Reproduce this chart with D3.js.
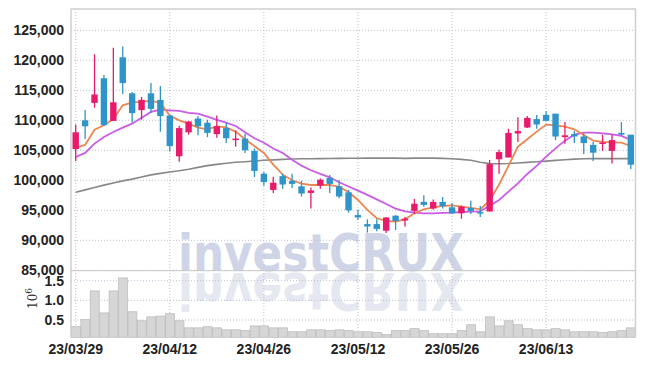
<!DOCTYPE html>
<html>
<head>
<meta charset="UTF-8" />
<script src="https://d3js.org/d3.v7.min.js"></script>
<style>
  body { margin: 0; background: #fff; }
  svg text { font-family: "Liberation Sans Narrow", "DejaVu Sans Condensed", sans-serif; }
</style>
</head>
<body>
<svg width="645" height="366"></svg>
<script>
const dates = [
  "23/03/29","23/03/30","23/03/31","23/04/03","23/04/04","23/04/05","23/04/06","23/04/07","23/04/10","23/04/11",
  "23/04/12","23/04/13","23/04/14","23/04/17","23/04/18","23/04/19","23/04/20","23/04/21","23/04/24","23/04/25",
  "23/04/26","23/04/27","23/04/28","23/05/02","23/05/03","23/05/04","23/05/08","23/05/09","23/05/10","23/05/11",
  "23/05/12","23/05/15","23/05/16","23/05/17","23/05/18","23/05/19","23/05/22","23/05/23","23/05/24","23/05/25",
  "23/05/26","23/05/30","23/05/31","23/06/01","23/06/02","23/06/05","23/06/07","23/06/08","23/06/09","23/06/12",
  "23/06/13","23/06/14","23/06/15","23/06/16","23/06/19","23/06/20","23/06/21","23/06/22","23/06/23","23/06/26"
];
const open  = [105200,110000,112900,117000,109900,120500,114500,111700,114500,113400,
               110800,104000,108000,110300,109600,107700,108700,106700,106950,104900,
               101100,98400,100700,99900,99000,97900,99100,100400,99000,98000,
               94200,92700,92700,91600,94100,93300,94900,96400,95300,96400,
               95500,94500,95400,94700,94800,103500,103800,107800,108800,110200,
               110900,111100,107200,107700,107300,105900,106100,104900,107900,107600];
const high  = [109300,111700,121000,117550,122100,122300,114700,113900,116200,115700,
               110900,109100,109900,110700,110100,110800,109600,108300,107800,105300,
               101400,100600,101100,101100,99900,98800,100300,100900,100000,98400,
               95100,93500,93500,93900,94200,93900,96900,97500,96800,97200,
               96200,95800,96600,95700,103400,105100,108600,110500,110700,110900,
               111500,111100,109700,108200,107800,106400,107600,107600,109700,107600];
const low   = [103200,106900,112100,109100,109900,114400,109600,110100,111200,108100,
               104800,103100,107600,107500,107200,107100,106200,105600,104560,100560,
               99100,97900,98600,98700,97300,95300,98600,97900,97000,94600,
               93400,91300,91500,91200,91700,92300,94400,95600,95100,95300,
               94400,93600,94400,93900,94800,101100,103800,106400,108700,108600,
               109800,106700,106100,106200,104400,103200,104900,102800,107500,101900];
const close = [108000,109000,114300,109200,113000,116200,111200,113400,111900,110700,
               105700,108700,109800,109000,107900,109000,107000,106950,105000,101560,
               99700,99600,99300,99400,97800,98300,100100,99400,97300,95000,
               93800,92300,91900,93800,93200,93600,96100,95900,96400,95700,
               94500,95600,94900,94500,102700,104700,107900,108200,110400,109300,
               109900,107300,107500,107300,106200,104600,106300,106700,107600,102600];
// volume in millions of shares
const volume = [0.33,0.51,1.24,0.68,1.24,1.57,0.71,0.48,0.58,0.60,
                0.66,0.48,0.30,0.30,0.33,0.30,0.25,0.25,0.23,0.35,
                0.35,0.30,0.30,0.20,0.20,0.25,0.25,0.23,0.25,0.23,
                0.20,0.20,0.18,0.13,0.23,0.23,0.28,0.23,0.15,0.15,
                0.15,0.23,0.38,0.20,0.58,0.35,0.48,0.38,0.28,0.25,
                0.25,0.28,0.25,0.20,0.20,0.20,0.18,0.20,0.23,0.30];
const ma5  = [105440,105900,108440,109170,110220,112500,113000,113060,113280,112890,
              110780,110000,109440,108780,108500,109000,108830,108110,106830,105700,
              104560,102610,100940,100000,99440,99220,99220,99220,98890,98050,
              96720,95060,93670,93220,93110,93500,94500,95170,95500,95720,
              95830,95610,95390,95170,96600,99300,102400,105600,106830,108110,
              109280,109170,108940,108500,107560,106610,106390,106330,106280,105720];
const ma20 = [103890,104560,106110,107220,108050,108780,109440,110440,111390,111780,
              111670,111560,111220,111110,110600,110060,109610,109060,108000,107000,
              106250,105300,104560,103440,102440,101670,101060,100500,99670,98970,
              98280,97560,96830,96060,95280,94830,94610,94500,94500,94560,
              94610,94720,94780,94830,95750,96720,98110,99500,101060,102390,
              103940,105330,106610,107610,107940,107940,107830,107670,107390,106720];
const ma60 = [98000,98400,98800,99200,99560,99900,100200,100550,100900,101150,
              101390,101600,101850,102150,102450,102650,102850,103000,103100,103220,
              103330,103400,103480,103550,103580,103600,103610,103640,103660,103670,
              103680,103690,103700,103720,103700,103650,103700,103720,103700,103650,
              103580,103480,103330,103000,102780,102760,102800,102880,102980,103100,
              103200,103320,103430,103530,103580,103610,103610,103610,103620,103620];
const priceTicks = [85000,90000,95000,100000,105000,110000,115000,120000,125000];
const volTicks = [0.5,1.0,1.5];
const dateTicks = ["23/03/29","23/04/12","23/04/26","23/05/12","23/05/26","23/06/13"];

const plotL = 71, plotR = 635.5, plotT = 9, split = 270.7, plotB = 337.3;
const upColor = "#e81a6b", downColor = "#2f94c7";

const svg = d3.select("svg");
const x = d3.scaleBand().domain(dates).range([plotL, plotR]).padding(0);
const y = d3.scaleLinear().domain([85000, 125000]).range([270.3, 30.3]);
const yv = d3.scaleLinear().domain([0.06, 1.5]).range([plotB, 280.7]);
const cx = d => x(d) + x.bandwidth() / 2;

// watermark with reflection
const wm = svg.append("g").attr("font-weight", "bold").attr("font-size", 52);
wm.append("text").attr("x", 178).attr("y", 271).attr("fill", "#cfd5e7")
  .attr("textLength", 286).attr("lengthAdjust", "spacingAndGlyphs")
  .style("font-family", "DejaVu Sans, sans-serif").text("investCRUX");
wm.append("text").attr("x", 178).attr("y", -273).attr("transform", "scale(1,-1)")
  .attr("fill", "#e5e8f1").attr("textLength", 286).attr("lengthAdjust", "spacingAndGlyphs")
  .style("font-family", "DejaVu Sans, sans-serif").text("investCRUX");

// grid
const grid = svg.append("g").attr("stroke", "#bcc0d2").attr("stroke-width", 1).attr("stroke-dasharray", "1,2");
grid.selectAll(".hp").data(priceTicks).join("line").attr("class", "hp")
  .attr("x1", plotL).attr("x2", plotR).attr("y1", d => y(d)).attr("y2", d => y(d));
grid.selectAll(".hv").data(volTicks).join("line").attr("class", "hv")
  .attr("x1", plotL).attr("x2", plotR).attr("y1", d => yv(d)).attr("y2", d => yv(d));
grid.selectAll(".vx").data(dateTicks).join("line").attr("class", "vx")
  .attr("x1", cx).attr("x2", cx).attr("y1", plotT).attr("y2", plotB);

// volume bars
svg.append("g").selectAll("rect").data(dates).join("rect")
  .attr("x", d => x(d) + 0.5).attr("width", x.bandwidth() - 0.5)
  .attr("y", (d, i) => yv(volume[i])).attr("height", (d, i) => plotB - yv(volume[i]))
  .attr("fill", "#d6d6d6").attr("stroke", "#bdbdbd").attr("stroke-width", 0.8);

// moving averages
const line = d3.line().x((d, i) => cx(dates[i])).y(d => y(d));
svg.append("path").attr("d", line(ma60)).attr("fill", "none").attr("stroke", "#888").attr("stroke-width", 1.6);
svg.append("path").attr("d", line(ma20)).attr("fill", "none").attr("stroke", "#c95ce8").attr("stroke-width", 1.8);
svg.append("path").attr("d", line(ma5)).attr("fill", "none").attr("stroke", "#ec8752").attr("stroke-width", 1.8);

// candles
const c = svg.append("g").selectAll("g").data(dates).join("g")
  .attr("fill", (d, i) => close[i] >= open[i] ? upColor : downColor)
  .attr("stroke", (d, i) => close[i] >= open[i] ? upColor : downColor);
c.append("line").attr("x1", cx).attr("x2", cx)
  .attr("y1", (d, i) => y(high[i])).attr("y2", (d, i) => y(low[i])).attr("stroke-width", 1.3);
const bw = x.bandwidth() * 0.68;
c.append("rect").attr("x", d => cx(d) - bw / 2).attr("width", bw)
  .attr("y", (d, i) => y(Math.max(open[i], close[i])))
  .attr("height", (d, i) => Math.max(1.5, Math.abs(y(open[i]) - y(close[i]))))
  .attr("stroke", "none");

// frame
svg.append("path").attr("d", `M${plotL},${plotB}V${plotT}H${plotR}V${plotB}`)
  .attr("fill", "none").attr("stroke", "#cfcfcf").attr("stroke-width", 1.5);
svg.append("line").attr("x1", plotL).attr("x2", plotR).attr("y1", split).attr("y2", split)
  .attr("stroke", "#c8c8c8").attr("stroke-width", 1);

// axes
function styleTicks(sel) {
  sel.select(".domain").remove();
  sel.selectAll("text").attr("font-size", 14).attr("font-weight", "bold").attr("fill", "#222")
    .style("font-family", "Liberation Sans Narrow, sans-serif");
}
svg.append("g").attr("transform", `translate(${plotL},0)`)
  .call(d3.axisLeft(y).tickValues(priceTicks).tickSize(0).tickPadding(7).tickFormat(d3.format(",")))
  .call(styleTicks);
svg.append("g").attr("transform", `translate(${plotL},0)`)
  .call(d3.axisLeft(yv).tickValues(volTicks).tickSize(0).tickPadding(7).tickFormat(d3.format(".1f")))
  .call(styleTicks);
svg.append("g").attr("transform", `translate(0,${plotB})`)
  .call(d3.axisBottom(x).tickValues(dateTicks).tickSize(0).tickPadding(7))
  .call(styleTicks);

const exp = svg.append("text").attr("transform", "translate(37,309) rotate(-90)")
  .attr("font-size", 12).attr("fill", "#333").style("font-family", "DejaVu Serif, serif");
exp.append("tspan").text("10");
exp.append("tspan").attr("dy", -5).attr("font-size", 9).text("6");
</script>
</body>
</html>
